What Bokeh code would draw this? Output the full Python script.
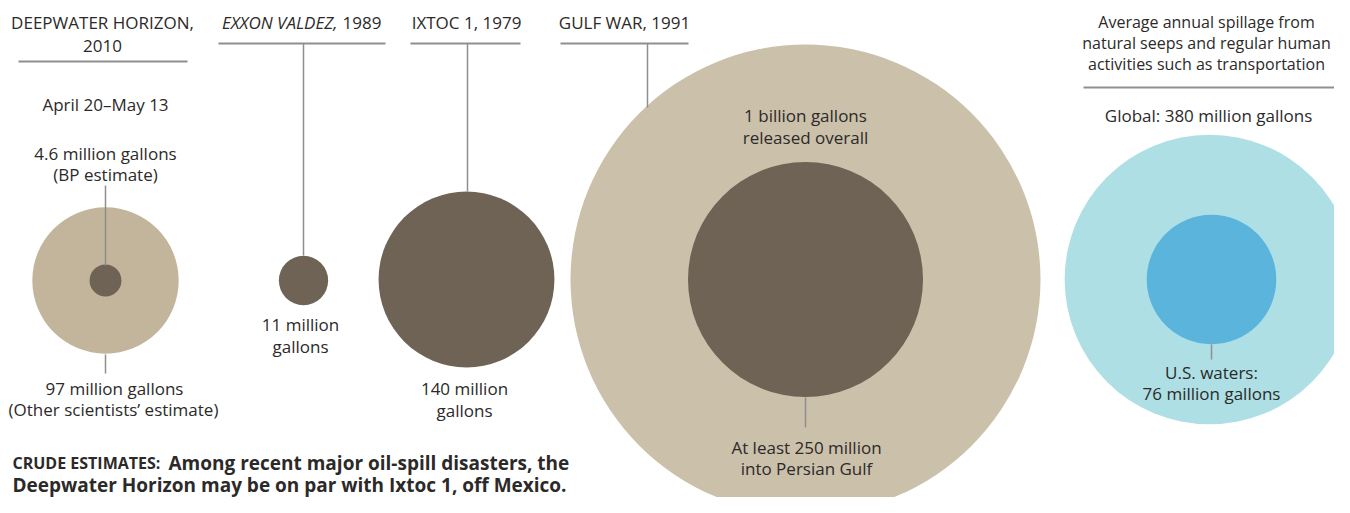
from bokeh.plotting import figure
from bokeh.models import ColumnDataSource, Range1d
from bokeh.core.properties import value
from bokeh.embed import file_html
from bokeh.resources import INLINE
import math

# ---- data (million gallons) ----
spill_names = ["Deepwater Horizon (others)", "Deepwater Horizon (BP)", "Exxon Valdez",
               "Ixtoc 1", "Gulf War (overall)", "Gulf War (Persian Gulf)",
               "Global annual", "U.S. waters annual"]
spill_volumes = [97, 4.6, 11, 140, 1000, 250, 380, 76]
spill_kind = ["light", "dark", "dark", "dark", "gulf", "dark", "cyan", "blue"]
header_labels = ["DEEPWATER HORIZON,", "2010", "IXTOC 1, 1979", "GULF WAR, 1991"]

# ---- layout ----
FONT = "Open Sans"
TXT = "#2b2a29"
LINE = "#8f8f8f"
colors = {"light": "#c3b59b", "dark": "#6e6354", "gulf": "#cbc0aa",
          "cyan": "#aedfe4", "blue": "#5ab4db"}
cx = [105, 105, 303, 466, 805, 805, 1209, 1211]
cy = [280, 280, 280, 279, 279, 279, 279, 279]
K = 235 / math.sqrt(1000)  # area-proportional scale
radii = [K * math.sqrt(v) for v in spill_volumes]

p = figure(width=1334, height=497, output_backend="svg", toolbar_location=None,
           x_range=Range1d(0, 1334), y_range=Range1d(497, 0),
           min_border=0, outline_line_color=None)
p.axis.visible = False
p.grid.visible = False
p.background_fill_color = "white"
p.border_fill_color = "white"

src = ColumnDataSource(dict(x=cx, y=cy, r=radii,
                            c=[colors[k] for k in spill_kind], name=spill_names))
p.circle(x="x", y="y", radius="r", fill_color="c", line_color=None, source=src)

# ---- leader lines ----
hx0 = [18, 218, 410, 560, 1083]
hx1 = [187, 385, 520, 688, 1334]
hy = [61, 43, 43, 43, 87]
p.segment(x0=hx0, y0=hy, x1=hx1, y1=hy, line_color=LINE, line_width=2)
vx = [105, 105, 303, 467, 647, 805, 1211]
vy0 = [185, 354, 43, 43, 43, 397, 344]
vy1 = [265, 373, 255, 191, 107, 427, 359]
p.segment(x0=vx, y0=vy0, x1=vx, y1=vy1, line_color=LINE, line_width=1.5)

def txt(xs, ys, texts, size=17, align="center", style="normal", color=TXT):
    p.text(x=xs, y=ys, text=texts, text_align=align, text_baseline="middle",
           text_font=value(FONT), text_font_size=f"{size}px",
           text_font_style=style, text_color=color)

# headers
txt([102, 102], [22, 45], header_labels[:2])
txt([337], [22], ["EXXON VALDEZ,"], align="right", style="italic")
txt([342], [22], ["1989"], align="left")
txt([466, 624], [22, 22], header_labels[2:])
txt([1206, 1206, 1206], [21, 42, 63],
    ["Average annual spillage from", "natural seeps and regular human",
     "activities such as transportation"], size=16)
txt([1208], [115], ["Global: 380 million gallons"])

# annotations
txt([105], [104], ["April 20\u2013May 13"])
txt([105, 105], [153, 174], ["4.6 million gallons", "(BP estimate)"])
txt([114, 113], [388, 409], ["97 million gallons", "(Other scientists\u2019 estimate)"])
txt([300, 300], [324, 346], ["11 million", "gallons"])
txt([464, 464], [388, 410], ["140 million", "gallons"])
txt([805, 805], [115, 137], ["1 billion gallons", "released overall"])
txt([806, 806], [447, 468], ["At least 250 million", "into Persian Gulf"])
txt([1211, 1211], [372, 393], ["U.S. waters:", "76 million gallons"])

# caption
txt([12], [462], ["CRUDE ESTIMATES:"], size=16, align="left", style="bold")
txt([168], [462], ["Among recent major oil-spill disasters, the"], size=19, align="left", style="bold")
txt([12], [484], ["Deepwater Horizon may be on par with Ixtoc 1, off Mexico."], size=19,
    align="left", style="bold")

open("out.html", "w").write(file_html(p, INLINE))
